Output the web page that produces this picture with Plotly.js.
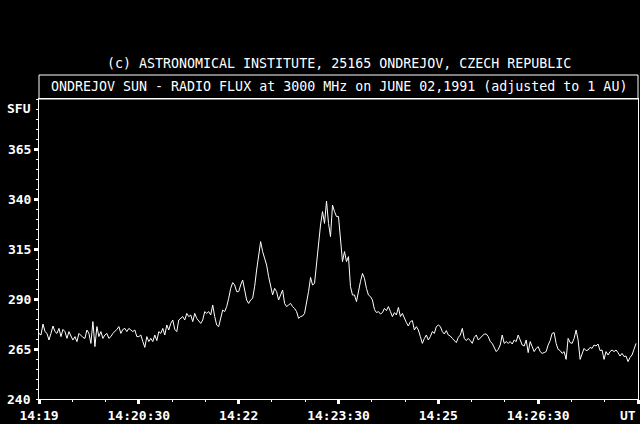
<!DOCTYPE html>
<html>
<head>
<meta charset="utf-8">
<script src="https://cdn.plot.ly/plotly-3.0.1.min.js"></script>
<style>
  html, body { margin: 0; padding: 0; background: #000; }
  #chart { width: 640px; height: 424px; }
</style>
</head>
<body>
<div id="chart"></div>
<script>
// ---- data ----
const copyrightLine = "(c) ASTRONOMICAL INSTITUTE, 25165 ONDREJOV, CZECH REPUBLIC";
const chartTitle = "ONDREJOV SUN - RADIO FLUX at 3000 MHz on JUNE 02,1991 (adjusted to 1 AU)";

// seconds after 14:19:00 UT of the first sample, and spacing of samples
const sampleStartSec = 0;
const sampleStepSec = 1.8;

// flux in SFU, consecutive samples from 14:19:00 UT
const fluxSFU = [
  272.8, 272.0, 277.5, 273.7, 272.8, 269.5, 272.8, 276.5, 273.7, 272.8,
  275.3, 271.2, 274.8, 273.7, 270.3, 273.7, 271.5, 269.5, 271.2, 268.7,
  272.8, 271.5, 270.8, 270.3, 274.5, 272.8, 267.8, 278.7, 266.2, 276.2,
  271.2, 273.7, 270.3, 272.0, 272.8, 270.3, 271.2, 272.8, 273.7, 274.8,
  276.2, 272.8, 274.8, 275.3, 273.7, 275.3, 274.5, 273.7, 274.5, 271.2,

  271.2, 272.0, 268.7, 265.8, 271.2, 268.7, 270.3, 268.7, 272.0, 269.2,
  273.7, 272.8, 275.3, 272.0, 277.0, 274.5, 277.8, 279.5, 274.8, 273.7,
  279.5, 280.3, 281.2, 279.5, 282.8, 281.2, 282.0, 278.7, 282.8, 280.3,
  278.7, 277.8, 279.5, 283.7, 282.8, 283.7, 282.0, 287.0, 281.2, 277.0,
  276.2, 280.3, 284.5, 283.7, 286.2, 290.3, 295.3, 298.2, 297.0, 293.7,

  293.7, 297.0, 299.5, 294.5, 289.5, 287.8, 289.5, 290.3, 296.2, 304.5,
  312.0, 318.7, 313.7, 310.3, 307.0, 301.2, 297.0, 292.0, 295.3, 293.7,
  289.5, 292.0, 294.5, 287.8, 286.2, 287.0, 287.8, 286.2, 285.3, 283.7,
  280.3, 281.2, 281.5, 282.8, 287.8, 293.7, 300.8, 297.0, 297.8, 308.7,
  319.5, 327.0, 333.7, 327.8, 339.0, 327.8, 321.2, 337.0, 333.7, 331.2,

  331.2, 317.8, 308.7, 313.7, 308.7, 311.2, 296.2, 292.0, 292.0, 288.7,
  294.5, 298.7, 302.8, 300.3, 295.3, 292.0, 291.2, 289.5, 284.8, 283.2,
  283.7, 282.5, 283.2, 285.3, 284.2, 286.2, 283.7, 281.2, 283.2, 282.0,
  285.8, 281.2, 282.8, 280.3, 278.2, 276.5, 278.7, 279.2, 274.5, 276.2,
  274.5, 271.2, 267.8, 270.3, 272.0, 269.5, 271.2, 273.7, 272.8, 276.2,

  277.0, 276.2, 273.7, 272.5, 274.2, 272.0, 271.5, 270.3, 269.2, 268.2,
  270.8, 272.0, 275.3, 270.3, 269.2, 270.3, 269.2, 267.8, 270.8, 272.0,
  269.5, 270.3, 271.5, 272.5, 272.5, 271.2, 268.7, 267.8, 265.8, 263.7,
  264.8, 267.0, 272.0, 267.8, 268.7, 267.8, 268.7, 267.5, 269.5, 268.7,
  272.0, 269.8, 267.0, 266.5, 269.5, 263.2, 268.7, 266.2, 263.7, 265.3,

  266.2, 263.7, 262.8, 263.2, 263.7, 267.0, 269.2, 272.8, 273.2, 267.8,
  264.8, 264.2, 262.8, 263.7, 259.8, 270.3, 268.2, 267.8, 270.3, 274.5,
  269.5, 259.8, 262.8, 265.3, 264.2, 264.5, 265.8, 265.3, 267.0, 266.5,
  267.5, 264.2, 264.5, 259.8, 263.7, 262.0, 263.7, 264.5, 263.7, 264.5,
  263.2, 261.5, 262.8, 261.2, 261.5, 258.7, 260.8, 262.0, 264.8, 267.8
];

// axis ticks
const xTickSec = [0, 90, 180, 270, 360, 450, 540];
const xTickLabels = ["14:19", "14:20:30", "14:22", "14:23:30", "14:25", "14:26:30", ""];
const xEndLabel = "UT";
const yTickVals = [265, 290, 315, 340, 365];
const yTickLabels = ["265", "290", "315", "340", "365"];
const yBottomLabel = "240";
const yUnitLabel = "SFU";

// ---- build ----
const timeSec = fluxSFU.map((_, i) => sampleStartSec + i * sampleStepSec);

const FONT = "'DejaVu Sans Mono', 'Liberation Mono', monospace";
const tickFont = { family: FONT, size: 13, color: "#ffffff", weight: "bold" };
const titleFont = { family: FONT, size: 13.3, color: "#ffffff" };

const trace = {
  x: timeSec,
  y: fluxSFU,
  type: "scatter",
  mode: "lines",
  line: { color: "#ffffff", width: 1 },
  hoverinfo: "skip"
};

const layout = {
  width: 640,
  height: 424,
  paper_bgcolor: "#000000",
  plot_bgcolor: "#000000",
  margin: { l: 39, r: 2, t: 99, b: 25, pad: 0 },
  showlegend: false,
  font: { family: FONT, color: "#ffffff", size: 13 },
  xaxis: {
    range: [0, 540],
    tickmode: "array",
    tickvals: xTickSec,
    ticktext: xTickLabels,
    ticks: "outside",
    ticklen: 4,
    tickwidth: 3,
    tickcolor: "#ffffff",
    tickfont: tickFont,
    showline: true,
    linecolor: "#ffffff",
    linewidth: 1,
    mirror: true,
    showgrid: false,
    zeroline: false,
    fixedrange: true,
    minor: { tick0: 0, dtick: 30, ticks: "outside", ticklen: 2, tickwidth: 1, tickcolor: "#ffffff", showgrid: false }
  },
  yaxis: {
    range: [240, 390],
    tickmode: "array",
    tickvals: yTickVals,
    ticktext: yTickLabels,
    ticks: "outside",
    ticklen: 4,
    tickwidth: 3,
    tickcolor: "#ffffff",
    tickfont: tickFont,
    showline: true,
    linecolor: "#ffffff",
    linewidth: 1,
    mirror: true,
    showgrid: false,
    zeroline: false,
    fixedrange: true,
    minor: { tick0: 240, dtick: 5, ticks: "outside", ticklen: 2, tickwidth: 1, tickcolor: "#ffffff", showgrid: false }
  },
  shapes: [
    { type: "rect", xref: "paper", yref: "paper", x0: 0, x1: 1, y0: 1, y1: 1.08,
      line: { color: "#ffffff", width: 1 }, fillcolor: "rgba(0,0,0,0)" }
  ],
  annotations: [
    { text: copyrightLine, xref: "paper", yref: "paper", x: 0.5, y: 1.117,
      xanchor: "center", yanchor: "middle", showarrow: false, font: titleFont },
    { text: chartTitle, xref: "paper", yref: "paper", x: 0.5, y: 1.04,
      xanchor: "center", yanchor: "middle", showarrow: false, font: titleFont },
    { text: yUnitLabel, xref: "paper", yref: "y", x: 0, y: 385.5, xshift: -6,
      xanchor: "right", yanchor: "middle", showarrow: false, font: tickFont },
    { text: yBottomLabel, xref: "paper", yref: "y", x: 0, y: 240, xshift: -6,
      xanchor: "right", yanchor: "middle", showarrow: false, font: tickFont },
    { text: xEndLabel, xref: "paper", yref: "paper", x: 1, y: 0, yshift: -7,
      xanchor: "right", yanchor: "top", showarrow: false, font: tickFont }
  ]
};

Plotly.newPlot("chart", [trace], layout, { staticPlot: true, displayModeBar: false });
</script>
</body>
</html>
